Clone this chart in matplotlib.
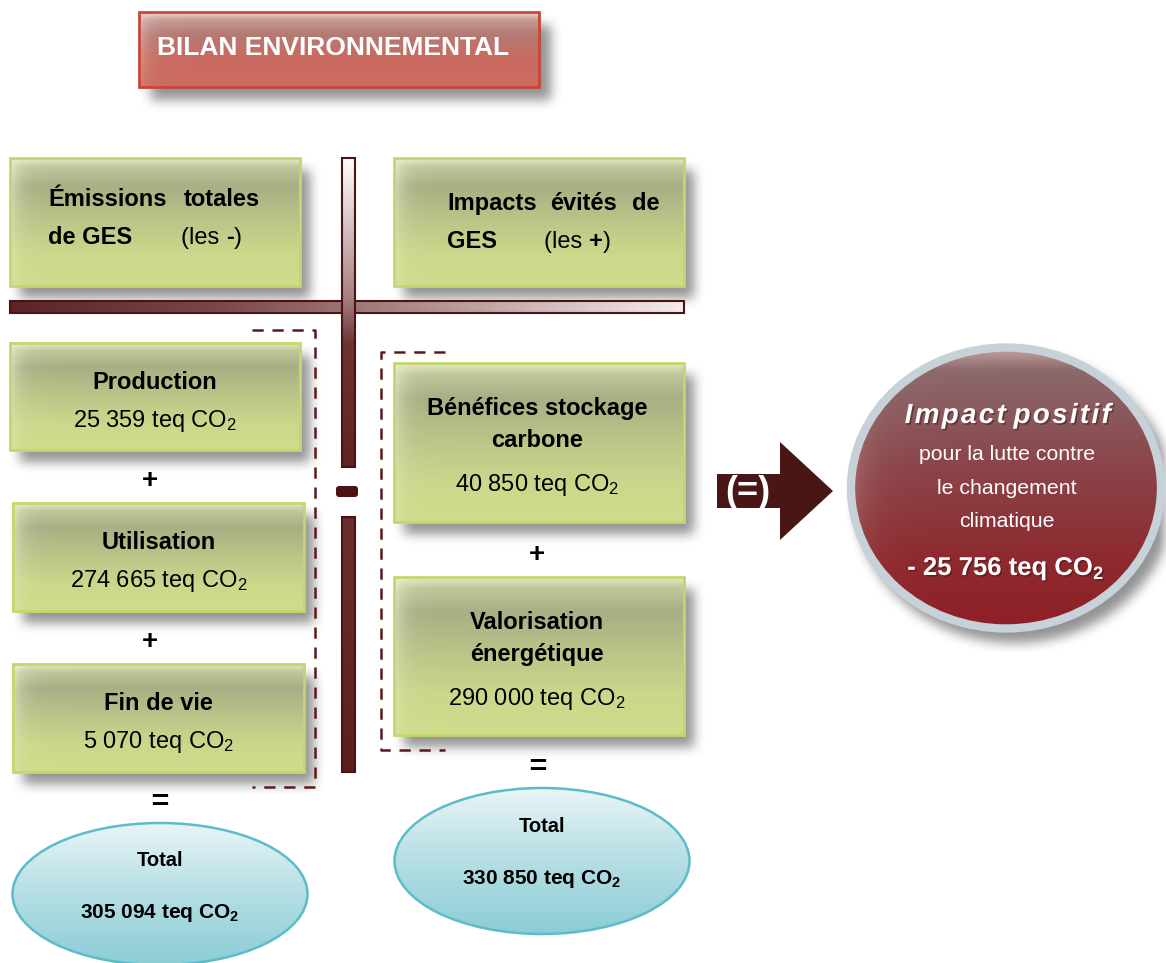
import numpy as np
import matplotlib
matplotlib.use("Agg")
import matplotlib.pyplot as plt
from matplotlib.patches import Rectangle, Ellipse, Polygon, FancyBboxPatch
from matplotlib.colors import to_rgb
import matplotlib.patheffects as pe

plt.rcParams['font.family'] = ['Liberation Sans', 'DejaVu Sans']
plt.rcParams['mathtext.fontset'] = 'custom'
plt.rcParams['mathtext.rm'] = 'Liberation Sans'
plt.rcParams['mathtext.bf'] = 'Liberation Sans:bold'
plt.rcParams['mathtext.it'] = 'Liberation Sans:italic'

# data
title = "BILAN ENVIRONNEMENTAL"
left_items = ["Production", "Utilisation", "Fin de vie"]
left_values = [25359, 274665, 5070]
right_items = [["Bénéfices stockage", "carbone"], ["Valorisation", "énergétique"]]
right_values = [40850, 290000]
circle_title = "Impact positif"
circle_lines = ["pour la lutte contre", "le changement", "climatique"]

left_total = sum(left_values)
right_total = sum(right_values)
net = left_total - right_total

W, H = 1166, 963
fig = plt.figure(figsize=(W / 100, H / 100), dpi=100)
ax = fig.add_axes([0, 0, 1, 1])
ax.set_xlim(0, W)
ax.set_ylim(H, 0)
ax.axis('off')
ax.set_autoscale_on(False)

GREEN = [(0, '#e4e9c2'), (0.07, '#c0c69a'), (0.22, '#a8af84'), (0.5, '#bbc688'), (0.75, '#cad88b'), (1, '#cfdc8b')]
TITLE = [(0, '#f0d5d0'), (0.1, '#c99a94'), (0.3, '#b47a74'), (0.6, '#c96b61'), (1, '#cd6a5e')]
CIRCLE = [(0, '#c9a3a3'), (0.08, '#8c6a6c'), (0.4, '#8a474c'), (0.75, '#8e2a2f'), (1, '#8f2027')]
BLUE = [(0, '#eaf5f7'), (0.45, '#b9e0e5'), (1, '#8bcdd6')]
MAROON = '#4a1414'


def fmt(v):
    s = f"{abs(v):,}".replace(",", " ")
    return ("- " if v < 0 else "") + s


def grad_img(x0, y0, x1, y1, stops, horiz=False, glow=None):
    w = max(int(round(x1 - x0)), 2)
    h = max(int(round(y1 - y0)), 2)
    t = np.linspace(0, 1, w if horiz else h)
    pos = [p for p, _ in stops]
    cols = np.array([to_rgb(c) for _, c in stops])
    prof = np.stack([np.interp(t, pos, cols[:, i]) for i in range(3)], -1)
    if horiz:
        img = np.repeat(prof[None, :, :], h, axis=0)
    else:
        img = np.repeat(prof[:, None, :], w, axis=1)
    if glow is not None:
        gcol, gw, ga = glow
        d = np.arange(w)
        wgt = ga * np.exp(-d / gw)[None, :, None] * np.linspace(1, 0.3, h)[:, None, None]
        img = img * (1 - wgt) + np.array(to_rgb(gcol)) * wgt
    return img


def fill(patch, img, x0, y0, x1, y1, z):
    ax.add_patch(patch)
    im = ax.imshow(img, extent=(x0, x1, y0, y1), origin='lower', aspect='auto',
                   interpolation='bilinear', zorder=z)
    im.set_clip_path(patch)


# shadows
mask = np.zeros((H, W))
yy, xx = np.mgrid[0:H, 0:W]


def rect_shadow(x0, y0, x1, y1, dx=10, dy=12):
    mask[int(y0 + dy):int(y1 + dy), int(x0 + dx):int(x1 + dx)] = 1


def box_blur(a, r):
    k = np.ones(2 * r + 1) / (2 * r + 1)
    a = np.apply_along_axis(np.convolve, 0, a, k, mode='same')
    a = np.apply_along_axis(np.convolve, 1, a, k, mode='same')
    return a


title_box = (139, 12, 539, 87)
header_boxes = [(10, 158, 300, 286), (394, 158, 684, 286)]
left_boxes = [(10, 343, 300, 450), (13, 503, 304, 611), (13, 664, 304, 772)]
right_boxes = [(394, 363, 684, 522), (394, 577, 684, 735)]
circ = (1006, 488, 310, 281)

rect_shadow(*title_box, dx=12, dy=13)
for b in header_boxes + left_boxes + right_boxes:
    rect_shadow(*b)
cx, cy, cw, ch = circ
mask[((xx - cx - 8) / (cw / 2 + 4)) ** 2 + ((yy - cy - 10) / (ch / 2 + 4)) ** 2 <= 1] = 1
mask = box_blur(box_blur(mask, 6), 6)
shadow = np.zeros((H, W, 4))
shadow[..., :3] = 0.3
shadow[..., 3] = mask * 0.6
ax.imshow(shadow, extent=(0, W, 0, H), origin='lower', aspect='auto', zorder=1)

# title box
x0, y0, x1, y1 = title_box
p = Rectangle((x0, y0), x1 - x0, y1 - y0, fc='none', ec='#c8473a', lw=2, zorder=4.1)
fill(p, grad_img(x0, y0, x1, y1, TITLE, glow=('#f3dcd8', 9, 0.6)), x0, y0, x1, y1, 4)
ax.text(157, 55, title, color='white', fontsize=19, fontweight='bold', va='baseline', ha='left', zorder=6)


def green_box(b):
    x0, y0, x1, y1 = b
    p = Rectangle((x0, y0), x1 - x0, y1 - y0, fc='none', ec='#c3d76c', lw=2, zorder=4.1)
    fill(p, grad_img(x0, y0, x1, y1, GREEN, glow=('#f2f5dc', 9, 0.75)), x0, y0, x1, y1, 4)


for b in header_boxes + left_boxes + right_boxes:
    green_box(b)

# bars
p = Rectangle((10, 301), 674, 12, fc='none', ec=MAROON, lw=1.5, zorder=2.1)
fill(p, grad_img(10, 301, 684, 313, [(0, '#5c2424'), (0.3, '#7a4646'), (0.55, '#a57f7f'), (1, '#f4eded')],
                 horiz=True), 10, 301, 684, 313, 2)
p = Rectangle((342, 158), 13, 309, fc='none', ec=MAROON, lw=1.5, zorder=2.6)
fill(p, grad_img(342, 158, 355, 467, [(0, '#ffffff'), (0.45, '#a88080'), (0.6, '#6e3434'), (1, '#5e2424')]),
     342, 158, 355, 467, 2.5)
p = Rectangle((342, 517), 13, 255, fc='none', ec=MAROON, lw=1.5, zorder=2.6)
fill(p, grad_img(342, 517, 355, 772, [(0, '#6a3030'), (1, '#5a2020')]), 342, 517, 355, 772, 2.5)
ax.add_patch(FancyBboxPatch((336, 486), 22, 11, boxstyle='round,pad=0,rounding_size=3',
                            fc=MAROON, ec='none', zorder=3))

# dashed brackets
dash = dict(color='#5a1a1a', lw=1.8, linestyle=(0, (4.5, 3.5)), zorder=2)
ax.plot([252, 315, 315, 252], [330, 330, 787, 787], **dash)
ax.plot([445, 381, 381, 445], [352, 352, 750, 750], **dash)

# header texts
rend = fig.canvas.get_renderer()


def run(x, y, parts, size=17):
    for s, wgt in parts:
        t = ax.text(x, y, s, fontsize=size, fontweight=wgt, va='baseline', ha='left', zorder=6)
        x += t.get_window_extent(rend).width


run(48, 206, [("Émissions", 'bold')])
run(184, 206, [("totales", 'bold')])
run(48, 244, [("de GES", 'bold')])
run(181, 244, [("(les ", 'normal'), ("-", 'bold'), (")", 'normal')])
run(447, 210, [("Impacts", 'bold')])
run(550, 210, [("évités", 'bold')])
run(632, 210, [("de", 'bold')])
run(447, 248, [("GES", 'bold')])
run(544, 248, [("(les ", 'normal'), ("+", 'bold'), (")", 'normal')])

# left items
for (x0, y0, x1, y1), name, v in zip(left_boxes, left_items, left_values):
    xc = (x0 + x1) / 2
    ax.text(xc, y0 + 46, name, fontsize=17, fontweight='bold', ha='center', va='baseline', zorder=6)
    ax.text(xc, y0 + 84, fmt(v) + " teq CO$_2$", fontsize=17, ha='center', va='baseline', zorder=6)

# right items
for (x0, y0, x1, y1), lines, v in zip(right_boxes, right_items, right_values):
    xc = (x0 + x1) / 2 - 2
    for i, ln in enumerate(lines):
        ax.text(xc, y0 + 52 + 32 * i, ln, fontsize=17, fontweight='bold', ha='center', va='baseline', zorder=6)
    ax.text(xc, y0 + 128, fmt(v) + " teq CO$_2$", fontsize=17, ha='center', va='baseline', zorder=6)

# operators
for x, y in [(150, 481), (150, 642), (537, 555)]:
    ax.text(x, y, "+", fontsize=20, fontweight='bold', ha='center', va='center', zorder=6)
for x, y in [(159, 803), (537, 768)]:
    ax.text(x, y, "=", fontsize=22, fontweight='bold', style='italic', ha='center', va='center', zorder=6)

# total ellipses
for (ex, ey, eh), tot, ty in [((160, 894, 142), left_total, 866), ((542, 861, 146), right_total, 832)]:
    e = Ellipse((ex, ey), 295, eh, fc='none', ec='#5cbcc8', lw=1.8, zorder=4.1)
    fill(e, grad_img(ex - 148, ey - eh / 2, ex + 148, ey + eh / 2, BLUE), ex - 148, ey - eh / 2,
         ex + 148, ey + eh / 2, 4)
    ax.text(ex, ty, "Total", fontsize=14.5, fontweight='bold', ha='center', va='baseline', zorder=6)
    ax.text(ex, ty + 52, fmt(tot) + r" teq CO$_\mathbf{2}$", fontsize=15, fontweight='bold',
            ha='center', va='baseline', zorder=6)

# arrow
ax.add_patch(Polygon([(717, 474), (780, 474), (780, 442), (833, 491), (780, 540), (780, 508), (717, 508)],
                     closed=True, fc='#4a1515', ec='none', zorder=3))
ax.text(748, 492, "(=)", fontsize=26, fontweight='bold', color='white', ha='center', va='center', zorder=6)

# result circle
cx, cy, cw, ch = circ
c = Ellipse((cx, cy), cw, ch, fc='none', ec='#c7d2d8', lw=6, zorder=4.1)
fill(c, grad_img(cx - cw / 2, cy - ch / 2, cx + cw / 2, cy + ch / 2, CIRCLE, glow=('#d9b0b0', 18, 0.5)),
     cx - cw / 2, cy - ch / 2, cx + cw / 2, cy + ch / 2, 4)
sh = [pe.withSimplePatchShadow(offset=(1.2, -1.2), shadow_rgbFace='#3a1a1a', alpha=0.5)]
spaced = " ".join("\u200a".join(w) for w in circle_title.split(" "))
ax.text(1008, 423, spaced, fontsize=20, fontweight='bold', style='italic', color='white',
        ha='center', va='baseline', zorder=6, path_effects=sh)
for i, ln in enumerate(circle_lines):
    ax.text(1007, 460 + 33.5 * i, ln, fontsize=15.3, color='white', ha='center', va='baseline', zorder=6)
ax.text(1006, 575, fmt(net) + r" teq CO$_\mathbf{2}$", fontsize=18.5, fontweight='bold', color='white',
        ha='center', va='baseline', zorder=6, path_effects=sh)

ax.set_xlim(0, W)
ax.set_ylim(H, 0)
fig.savefig("out.png", dpi=100, facecolor='white')
